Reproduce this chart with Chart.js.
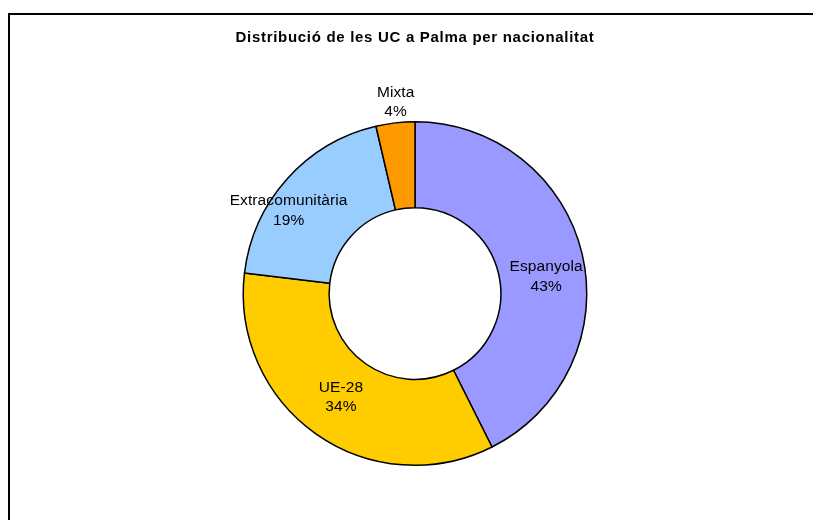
<!DOCTYPE html>
<html>
<head>
<meta charset="utf-8">
<script src="https://cdn.jsdelivr.net/npm/chart.js@4"></script>
<style>
  html, body { margin: 0; padding: 0; background: #ffffff; }
  canvas { display: block; }
</style>
</head>
<body>
<canvas id="c" width="813" height="520"></canvas>
<script>
const chartTitle = 'Distribució de les UC a Palma per nacionalitat';
const categories = ['Espanyola', 'UE-28', 'Extracomunitària', 'Mixta'];
const shares = [42.6, 34.3, 19.45, 3.65];
const sliceColors = ['#9999FF', '#FFCC00', '#99CCFF', '#FF9900'];

// label placement relative to each slice: radius as fraction of outer radius, angle shift in degrees
const labelPlacement = [
  { r: 0.77, shift: 6 },
  { r: 0.74, shift: 0.5 },
  { r: 0.88, shift: -8.6 },
  { r: 1.12, shift: 0.8 }
];

const total = shares.reduce((a, b) => a + b, 0);

const framePlugin = {
  id: 'frame',
  beforeDraw(chart) {
    const ctx = chart.ctx;
    ctx.save();
    ctx.fillStyle = '#ffffff';
    ctx.fillRect(0, 0, chart.width, chart.height);
    ctx.strokeStyle = '#000000';
    ctx.lineWidth = 2;
    ctx.strokeRect(9, 14, chart.width + 20, chart.height + 20);
    ctx.restore();
    ctx.letterSpacing = '0.7px';
  },
  beforeDatasetsDraw(chart) {
    chart.ctx.letterSpacing = '0px';
  }
};

const sliceLabels = {
  id: 'sliceLabels',
  afterDatasetsDraw(chart) {
    const ctx = chart.ctx;
    const meta = chart.getDatasetMeta(0);
    ctx.save();
    ctx.letterSpacing = '0.1px';
    ctx.font = '15.5px "Liberation Sans", Arial, sans-serif';
    ctx.fillStyle = '#000000';
    ctx.textAlign = 'center';
    ctx.textBaseline = 'middle';
    meta.data.forEach((arc, i) => {
      const p = arc.getProps(['x', 'y', 'startAngle', 'endAngle', 'outerRadius'], true);
      const mid = (p.startAngle + p.endAngle) / 2 + labelPlacement[i].shift * Math.PI / 180;
      const r = p.outerRadius * labelPlacement[i].r;
      const cx = p.x + Math.cos(mid) * r;
      const cy = p.y + Math.sin(mid) * r;
      const pct = Math.round(shares[i] / total * 100) + '%';
      ctx.fillText(categories[i], cx, cy - 9.5);
      ctx.fillText(pct, cx, cy + 10);
    });
    ctx.restore();
  }
};

new Chart(document.getElementById('c'), {
  type: 'doughnut',
  data: {
    labels: categories,
    datasets: [{
      data: shares,
      backgroundColor: sliceColors,
      borderColor: '#000000',
      borderWidth: 1.5,
      borderAlign: 'center'
    }]
  },
  options: {
    responsive: false,
    animation: false,
    cutout: '50%',
    layout: { padding: { top: 0, left: 17, right: 0, bottom: 54 } },
    plugins: {
      legend: { display: false },
      tooltip: { enabled: false },
      title: {
        display: true,
        text: chartTitle,
        color: '#000000',
        font: { family: '"Liberation Sans", Arial, sans-serif', size: 15, weight: 'bold', lineHeight: 1.2 },
        padding: { top: 29, bottom: 74 }
      }
    }
  },
  plugins: [framePlugin, sliceLabels]
});
</script>
</body>
</html>
